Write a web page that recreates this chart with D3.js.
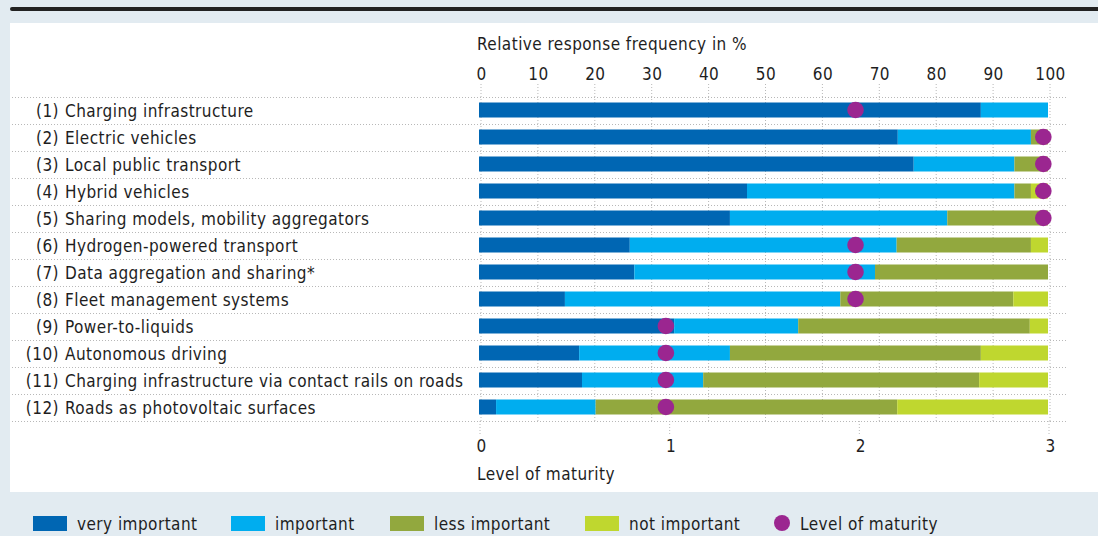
<!DOCTYPE html>
<html><head><meta charset="utf-8">
<script src="https://cdn.jsdelivr.net/npm/d3@7"></script>
<style>
html,body{margin:0;padding:0;background:#e2ebf1;}
text{font-family:"DejaVu Sans Condensed","DejaVu Sans",sans-serif;fill:#1e1e1e;letter-spacing:0.45px;}
</style></head>
<body><svg id="c" width="1098" height="536"></svg>
<script>
const numbers = ["(1)","(2)","(3)","(4)","(5)","(6)","(7)","(8)","(9)","(10)","(11)","(12)"];
const categories = ["Charging infrastructure","Electric vehicles","Local public transport","Hybrid vehicles",
 "Sharing models, mobility aggregators","Hydrogen-powered transport","Data aggregation and sharing*",
 "Fleet management systems","Power-to-liquids","Autonomous driving",
 "Charging infrastructure via contact rails on roads","Roads as photovoltaic surfaces"];
const veryImportant = [88.2,73.6,76.4,47.1,44.1,26.5,27.3,15.1,34.3,17.6,18.1,3.0];
const important     = [11.8,23.4,17.7,47.0,38.2,46.9,42.3,48.4,21.8,26.5,21.3,17.5];
const lessImportant = [0,3.0,5.9,2.9,17.7,23.6,30.4,30.4,40.7,44.1,48.5,53.0];
const notImportant  = [0,0,0,3.0,0,3.0,0,6.1,3.2,11.8,12.1,26.5];
const maturity      = [1.98,2.97,2.97,2.97,2.97,1.98,1.98,1.98,0.98,0.98,0.98,0.98];
const pctTicks = [0,10,20,30,40,50,60,70,80,90,100];
const maturityTicks = [0,1,2,3];
const seriesNames = ["very important","important","less important","not important"];
const colors = ["#0066b3","#00adef","#92a83e","#bfd72f"];
const dotColor = "#9b2690";

const svg = d3.select("#c");
svg.append("rect").attr("width",1098).attr("height",536).attr("fill","#e2ebf1");
svg.append("line").attr("x1",12).attr("x2",1110).attr("y1",9).attr("y2",9)
  .attr("stroke","#222").attr("stroke-width",4).attr("stroke-linecap","round");
svg.append("rect").attr("x",10).attr("y",23).attr("width",1088).attr("height",469).attr("fill","#fff");

const x = d3.scaleLinear().domain([0,100]).range([479,1048]);
const m = d3.scaleLinear().domain([0,3]).range([480,1049]);
const y = d3.scaleBand().domain(categories).range([96.5,420.5]).paddingInner(12/27).paddingOuter(6/27);

const grid = "#b8b8b8";
svg.append("g").selectAll("line").data(pctTicks).join("line")
  .attr("x1",d=>x(d)+2).attr("x2",d=>x(d)+2).attr("y1",84).attr("y2",421)
  .attr("stroke",grid).attr("stroke-width",1).attr("stroke-dasharray","1,2");
svg.append("g").selectAll("line").data(maturityTicks).join("line")
  .attr("x1",d=>m(d)).attr("x2",d=>m(d)).attr("y1",421).attr("y2",434)
  .attr("stroke",grid).attr("stroke-width",1).attr("stroke-dasharray","1,2");
const hl = categories.map(c=>y(c)-y.step()*y.paddingInner()/2);
hl.push(y(categories[categories.length-1])+y.bandwidth()+y.step()*y.paddingInner()/2);
svg.append("g").selectAll("line").data(hl).join("line")
  .attr("x1",12).attr("x2",1066).attr("y1",d=>Math.round(d)+0.5).attr("y2",d=>Math.round(d)+0.5)
  .attr("stroke",grid).attr("stroke-width",1).attr("stroke-dasharray","1,2");

const table = categories.map((c,i)=>({cat:c, "very important":veryImportant[i], "important":important[i],
  "less important":lessImportant[i], "not important":notImportant[i]}));
const stacked = d3.stack().keys(seriesNames)(table);
svg.append("g").selectAll("g").data(stacked).join("g").attr("fill",(d,i)=>colors[i])
  .selectAll("rect").data(d=>d).join("rect")
  .attr("x",d=>x(d[0])).attr("width",d=>Math.max(0,x(d[1])-x(d[0])))
  .attr("y",d=>y(d.data.cat)).attr("height",y.bandwidth());

svg.append("g").selectAll("circle").data(categories).join("circle")
  .attr("cx",(d,i)=>m(maturity[i])).attr("cy",d=>y(d)+y.bandwidth()/2).attr("r",8.3).attr("fill",dotColor);

const fs = "17px";
const lab = svg.append("g").style("font-size",fs);
lab.selectAll("text.n").data(categories).join("text").attr("class","n")
  .attr("x",59).attr("y",d=>y(d)+y.bandwidth()/2).attr("dy","0.4em").attr("text-anchor","end")
  .text((d,i)=>numbers[i]);
lab.selectAll("text.c").data(categories).join("text").attr("class","c")
  .attr("x",65).attr("y",d=>y(d)+y.bandwidth()/2).attr("dy","0.4em")
  .text(d=>d);

const topAxis = svg.append("g").attr("transform","translate(2,80)")
  .call(d3.axisTop(x).tickValues(pctTicks).tickSize(0).tickPadding(0));
topAxis.select(".domain").remove();
topAxis.attr("font-family",null).attr("font-size",null);
topAxis.selectAll("text").style("font-size",fs).attr("fill","#1e1e1e");
svg.append("text").attr("x",477).attr("y",50).style("font-size",fs).text("Relative response frequency in %");

const botAxis = svg.append("g").attr("transform","translate(1,440)")
  .call(d3.axisBottom(m).tickValues(maturityTicks).tickFormat(d3.format("d")).tickSize(0).tickPadding(0));
botAxis.select(".domain").remove();
botAxis.attr("font-family",null).attr("font-size",null);
botAxis.selectAll("text").style("font-size",fs).attr("fill","#1e1e1e");
svg.append("text").attr("x",477).attr("y",480).style("font-size",fs).text("Level of maturity");

const leg = svg.append("g");
const legX = [33,231,390,585];
seriesNames.forEach((s,i)=>{
  leg.append("rect").attr("x",legX[i]).attr("y",516).attr("width",34).attr("height",15).attr("fill",colors[i]);
  leg.append("text").attr("x",legX[i]+44).attr("y",523.5).attr("dy","0.4em").style("font-size",fs).text(s);
});
leg.append("circle").attr("cx",782).attr("cy",523).attr("r",8).attr("fill",dotColor);
leg.append("text").attr("x",800).attr("y",523.5).attr("dy","0.4em").style("font-size",fs).text("Level of maturity");
</script></body></html>
